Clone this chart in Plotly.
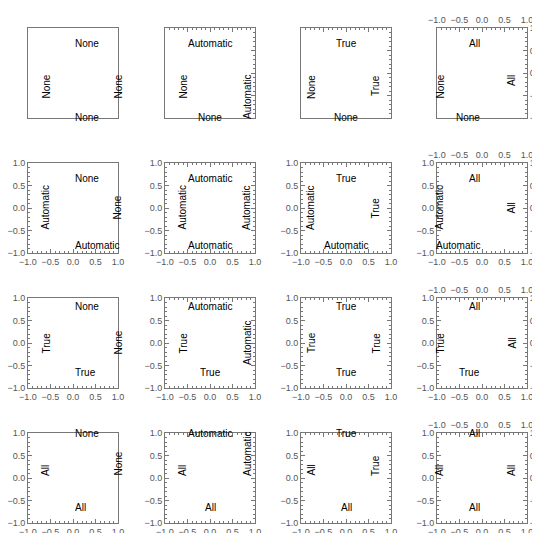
import plotly.graph_objects as go

options = ["None", "Automatic", "True", "All"]  # row: left/bottom; col: top/right
tick_vals = [-1.0, -0.5, 0.0, 0.5, 1.0]
tick_text = ["\u22121.0", "\u22120.5", "0.0", "0.5", "1.0"]
col_x0 = [20, 157, 293, 429]
row_y0 = [20, 155, 290, 425]
W, H, S = 540, 533, 90

fig = go.Figure()
layout = {}
ann = []
GRAY = "#777"

def axis_cfg(ticks, labels, side, anchor, overlay, dom):
    d = dict(range=[-1, 1], domain=dom, anchor=anchor, side=side, automargin=False,
             showgrid=False, zeroline=False, showline=True, linecolor=GRAY, linewidth=1,
             ticks="inside" if ticks else "", ticklen=4, tickcolor=GRAY,
             tickvals=tick_vals, ticktext=tick_text, showticklabels=labels,
             tickfont=dict(family="Liberation Sans", size=9, color="#555"),
             fixedrange=True)
    if ticks:
        d["minor"] = dict(ticks="inside", ticklen=2, tickcolor=GRAY, dtick=0.1, tick0=0, showgrid=False)
    if overlay:
        d["overlaying"] = overlay
    return d

def mode(opt, primary):
    if opt == "None":
        return False, False
    if opt in ("Automatic", "True"):
        return True, primary
    return True, True

n = 0
for r, lb in enumerate(options):
    for c, tr in enumerate(options):
        x0 = col_x0[c]; y0 = row_y0[r]
        xd = [x0 / W, (x0 + S) / W]
        yd = [1 - (y0 + S) / H, 1 - y0 / H]
        a, b = 2 * n + 1, 2 * n + 2
        bt, bl = mode(lb, True)
        tt, tl = mode(tr, False)
        layout[f"xaxis{a}"] = axis_cfg(bt, bl, "bottom", f"y{a}", None, xd)
        layout[f"yaxis{a}"] = axis_cfg(bt, bl, "left", f"x{a}", None, yd)
        layout[f"xaxis{b}"] = axis_cfg(tt, tl, "top", f"y{a}", f"x{a}", xd)
        layout[f"yaxis{b}"] = axis_cfg(tt, tl, "right", f"x{a}", f"y{a}", yd)
        fig.add_trace(go.Scatter(x=[None], y=[None], xaxis=f"x{a}", yaxis=f"y{a}",
                                 showlegend=False, hoverinfo="skip"))
        fig.add_trace(go.Scatter(x=[None], y=[None], xaxis=f"x{b}", yaxis=f"y{b}",
                                 showlegend=False, hoverinfo="skip"))
        f = dict(family="Liberation Sans", size=10, color="black")
        ann.append(dict(x=(x0 + S / 2) / W, y=1 - (y0 + 8) / H, text=tr, showarrow=False,
                        xref="paper", yref="paper", font=f))
        ann.append(dict(x=(x0 + S / 2) / W, y=1 - (y0 + S - 8) / H, text=lb, showarrow=False,
                        xref="paper", yref="paper", font=f))
        ann.append(dict(x=(x0 + 10) / W, y=1 - (y0 + S / 2) / H, text=lb, showarrow=False,
                        xref="paper", yref="paper", font=f, textangle=-90))
        ann.append(dict(x=(x0 + S - 8) / W, y=1 - (y0 + S / 2) / H, text=tr, showarrow=False,
                        xref="paper", yref="paper", font=f, textangle=-90))
        n += 1

fig.update_layout(**layout)
fig.update_layout(annotations=ann, width=W, height=H, margin=dict(l=0, r=0, t=0, b=0, autoexpand=False),
                  paper_bgcolor="white", plot_bgcolor="white")
fig.write_html("out.html")
